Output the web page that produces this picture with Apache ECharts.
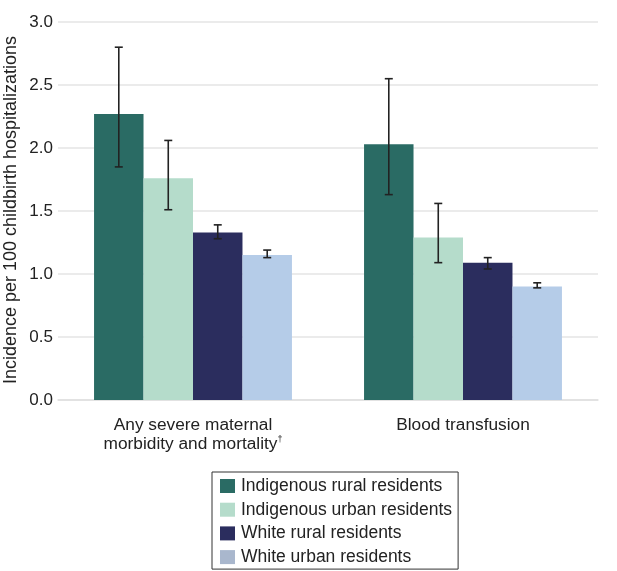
<!DOCTYPE html>
<html><head><meta charset="utf-8">
<script src="https://cdn.jsdelivr.net/npm/echarts@6/dist/echarts.min.js"></script>
<style>html,body{margin:0;padding:0;background:#fff}#c{width:617px;height:571px}</style>
</head><body><div id="c"></div>
<script>
var categories = ['Any severe maternal\nmorbidity and mortality', 'Blood transfusion'];
var seriesNames = ['Indigenous rural residents', 'Indigenous urban residents', 'White rural residents', 'White urban residents'];
var values = [
  [2.27, 2.03],
  [1.76, 1.29],
  [1.33, 1.09],
  [1.15, 0.90]
];
var lower = [
  [1.85, 1.63],
  [1.51, 1.09],
  [1.28, 1.04],
  [1.13, 0.89]
];
var upper = [
  [2.80, 2.55],
  [2.06, 1.56],
  [1.39, 1.13],
  [1.19, 0.93]
];
var yTicks = [0, 0.5, 1, 1.5, 2, 2.5, 3];
var yTitle = 'Incidence per 100 childbirth hospitalizations';

var colors = ['#2a6b64', '#b5dccb', '#2b2d5e', '#b5cce8'];
var legendColors = ['#2a6b64', '#b5dccb', '#2b2d5e', '#a9b7cd'];
var gapRatio = 0.267;

var chart = echarts.init(document.getElementById('c'));
var series = [];
seriesNames.forEach(function (n, i) {
  series.push({
    name: n, type: 'bar', data: values[i], barGap: '0%', barCategoryGap: (gapRatio * 100) + '%',
    itemStyle: { color: colors[i] }, emphasis: { disabled: true }
  });
});
seriesNames.forEach(function (n, i) {
  var d = categories.map(function (c, j) { return [j, lower[i][j], upper[i][j]]; });
  series.push({
    type: 'custom', name: n + '_err', data: d, z: 10, silent: true,
    renderItem: function (params, api) {
      var j = api.value(0);
      var band = api.size([1, 0])[0];
      var bw = band * (1 - gapRatio) / 4;
      var off = (i - 1.5) * bw;
      var lo = api.coord([j, api.value(1)]);
      var hi = api.coord([j, api.value(2)]);
      var x = lo[0] + off;
      var cw = 4;
      var st = { stroke: '#222', lineWidth: 1.6 };
      return { type: 'group', children: [
        { type: 'line', shape: { x1: x, y1: lo[1], x2: x, y2: hi[1] }, style: st },
        { type: 'line', shape: { x1: x - cw, y1: lo[1], x2: x + cw, y2: lo[1] }, style: st },
        { type: 'line', shape: { x1: x - cw, y1: hi[1], x2: x + cw, y2: hi[1] }, style: st }
      ] };
    }
  });
});

chart.setOption({
  animation: false,
  textStyle: { fontFamily: 'Liberation Sans, Arial, sans-serif' },
  grid: { left: 58, right: 19, top: 22, bottom: 171, outerBoundsMode: 'none', containLabel: false },
  graphic: [{
    type: 'text', x: 11, y: 210, rotation: Math.PI / 2,
    style: { text: yTitle, fontSize: 18, fill: '#222', fontFamily: 'Liberation Sans, Arial, sans-serif', align: 'center', verticalAlign: 'middle' }
  }],
  legend: {
    data: seriesNames.map(function (n, i) { return { name: n, itemStyle: { color: legendColors[i] } }; }),
    orient: 'vertical', left: 212, top: 472, height: 120, width: 300,
    borderColor: '#333', borderWidth: 1, padding: [5, 6, 3, 8],
    itemWidth: 15, itemHeight: 14, itemGap: 5.7, icon: 'rect',
    textStyle: { fontSize: 17.5, lineHeight: 17, color: '#222', padding: [0, 0, 0, 1] }
  },
  xAxis: {
    type: 'category', data: categories,
    axisLine: { lineStyle: { color: '#e0e0e0', width: 1.5 } }, axisTick: { show: false },
    axisLabel: {
      interval: 0, hideOverlap: false,
      color: '#222', fontSize: 17, margin: 16, lineHeight: 19,
      formatter: function (v, idx) {
        if (idx === 0) return '{a|Any severe maternal}\n{a|morbidity and mortality}{s|†}';
        return '{a|' + v + '}';
      },
      rich: { a: { fontSize: 17.3, color: '#222', lineHeight: 19 }, s: { fontSize: 9, color: '#222', verticalAlign: 'top', lineHeight: 12, padding: [0, 0, 8, 0] } }
    }
  },
  yAxis: {
    type: 'value', min: 0, max: 3, interval: 0.5,
    axisLine: { show: false }, axisTick: { show: false },
    splitLine: { lineStyle: { color: '#e4e4e4', width: 1.5 } },
    axisLabel: { color: '#222', fontSize: 17, margin: 5, formatter: function (v) { return v.toFixed(1); } }
  },
  series: series
});
</script></body></html>
